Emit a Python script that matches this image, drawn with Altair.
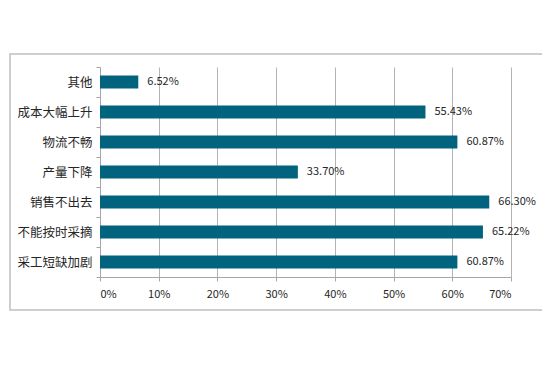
import altair as alt
import pandas as pd

categories = ["其他", "成本大幅上升", "物流不畅", "产量下降", "销售不出去", "不能按时采摘", "采工短缺加剧"]
values = [6.52, 55.43, 60.87, 33.70, 66.30, 65.22, 60.87]
x_ticks = [0, 10, 20, 30, 40, 50, 60, 70]

df = pd.DataFrame({"category": categories, "value": values})

font = "Noto Sans CJK SC"
grey = "#BFBFBF"

y_enc = alt.Y(
    "category:N",
    sort=categories,
    title=None,
    scale=alt.Scale(paddingInner=0, paddingOuter=0),
    axis=alt.Axis(
        tickBand="extent",
        tickSize=4,
        tickColor="#A6A6A6",
        domainColor="#A6A6A6",
        labelPadding=4,
        labelFont=font,
        labelFontSize=12.5,
        labelColor="#262626",
        grid=False,
    ),
)

x_enc = alt.X(
    "value:Q",
    title=None,
    scale=alt.Scale(domain=[0, 70], nice=False),
    axis=alt.Axis(
        values=x_ticks,
        labelExpr="datum.value + '%'",
        tickSize=4,
        tickColor="#A6A6A6",
        domainColor="#A6A6A6",
        gridColor="#B4B4B4",
        labelPadding=7,
        labelFont=font,
        labelFontSize=11,
        labelColor="#262626",
    ),
)

base = alt.Chart(df)

bars = base.mark_bar(size=13, color="#02637F").encode(x=x_enc, y=y_enc)

labels = (
    base.transform_calculate(label="format(datum.value, '.2f') + '%'")
    .mark_text(align="left", baseline="middle", dx=9, font=font, fontSize=11, color="#262626")
    .encode(x="value:Q", y=alt.Y("category:N", sort=categories), text="label:N")
)

frame = (
    alt.Chart(alt.Data(values=[{"a": 1}]))
    .mark_rect(fill=None, stroke=grey, strokeWidth=1.5)
    .encode(
        x=alt.value(-90),
        x2=alt.value(443),
        y=alt.value(-13),
        y2=alt.value(243),
    )
)

chart = (
    alt.layer(frame, bars, labels)
    .properties(
        width=411,
        height=210,
        autosize=alt.AutoSizeParams(type="none"),
        padding={"left": 92, "top": 59, "right": 31, "bottom": 82},
        background="white",
    )
    .configure_view(strokeWidth=0)
)

chart.save("out.html", embed_options={"renderer": "svg", "actions": False})
